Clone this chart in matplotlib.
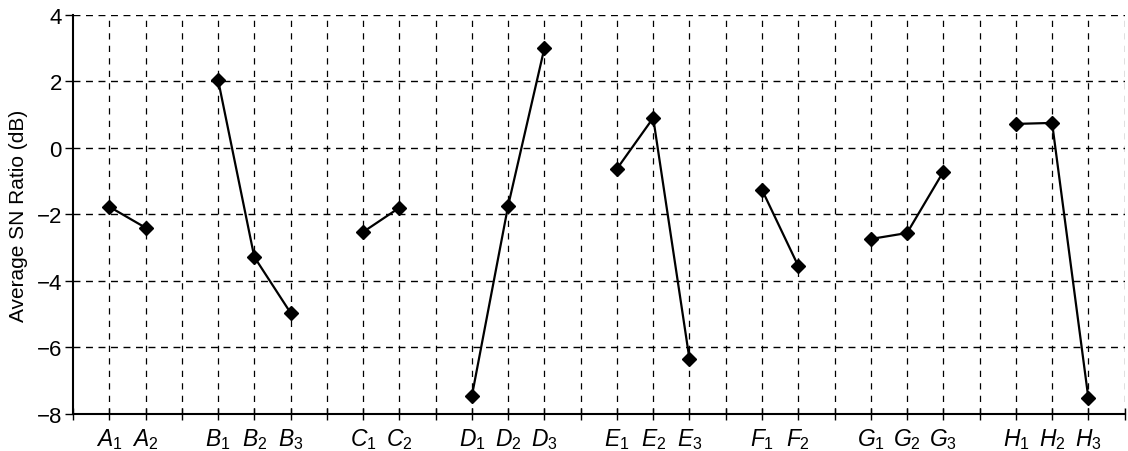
import matplotlib.pyplot as plt
import numpy as np

plt.rcParams['font.family'] = ['Liberation Sans', 'DejaVu Sans']
plt.rcParams['mathtext.fontset'] = 'custom'
plt.rcParams['mathtext.rm'] = 'Liberation Sans'
plt.rcParams['mathtext.it'] = 'Liberation Sans:italic'

# factor levels, grouped; each group is one line segment
factors = ['A', 'B', 'C', 'D', 'E', 'F', 'G', 'H']
sn_ratio = {
    'A': [-1.77, -2.40],
    'B': [2.05, -3.28, -4.96],
    'C': [-2.53, -1.80],
    'D': [-7.46, -1.74, 3.00],
    'E': [-0.63, 0.90, -6.35],
    'F': [-1.26, -3.55],
    'G': [-2.74, -2.56, -0.72],
    'H': [0.72, 0.75, -7.52],
}
y_ticks = [-8, -6, -4, -2, 0, 2, 4]

fig = plt.figure(figsize=(11.28, 4.52), dpi=100)
ax = fig.add_axes([0.0647, 0.082, 0.9323, 0.883])

tick_pos = [0]
tick_lab = ['']
pos = 1
for f in factors:
    vals = sn_ratio[f]
    xs = np.arange(pos, pos + len(vals))
    ax.plot(xs, vals, color='black', lw=1.6, marker='D', ms=7.5, zorder=3)
    for i, x in enumerate(xs):
        tick_pos.append(x)
        tick_lab.append(r'$%s_{%d}$' % (f, i + 1))
    pos += len(vals)
    tick_pos.append(pos)
    tick_lab.append('')
    pos += 1

ax.set_xlim(0, tick_pos[-1])
ax.set_ylim(-8, 4)
ax.set_xticks(tick_pos)
ax.set_xticklabels(tick_lab, fontsize=16.5)
ax.set_yticks(y_ticks)
ax.set_yticklabels([str(v).replace('-', '\u2212') for v in y_ticks], fontsize=16)
ax.set_ylabel('Average SN Ratio (dB)', fontsize=15, labelpad=6)

for x in tick_pos[1:]:
    ax.axvline(x, color='black', lw=0.9, ls=(0, (5, 5)), zorder=1)
for y in y_ticks[1:]:
    ax.axhline(y, color='black', lw=1.0, ls=(0, (5, 4)), zorder=1)

ax.spines['top'].set_visible(False)
ax.spines['right'].set_visible(False)
ax.spines['left'].set_linewidth(1.5)
ax.spines['bottom'].set_linewidth(1.5)
ax.tick_params(axis='x', direction='inout', length=8, width=1, pad=5)
ax.tick_params(axis='y', direction='out', length=6, width=1, pad=2)

fig.savefig('out.png', dpi=100)
